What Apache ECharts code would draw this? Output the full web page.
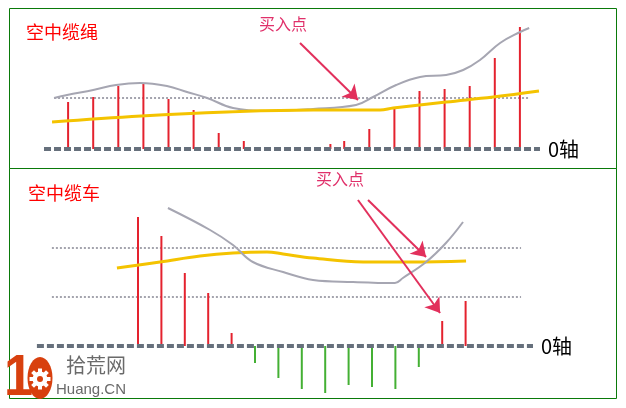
<!DOCTYPE html>
<html><head><meta charset="utf-8">
<script src="https://cdn.jsdelivr.net/npm/echarts@6/dist/echarts.min.js"></script>
<style>html,body{margin:0;padding:0;background:#fff}#c{width:626px;height:408px}</style>
</head><body><div id="c"></div>
<script>
// ---- Top panel: 空中缆绳 ----
const topBarX = [0,1,2,3,4,5,6,7,10.45,11,12,13,14,15,16,17,18];
const topBarY = [47,52,63,66,50,39,16,8,5,8,20,42,58,60,63,91,122];
const topGrayX = [-0.56,-0.04,1.0,1.91,2.87,3.94,4.74,5.54,6.57,7.93,9.76,11.47,12.15,13.07,14.02,15.06,15.74,16.41,17.21,18.01,18.37];
const topGrayY = [51,54,59,64,66,63,57,51,41,38,40,44,52,64,72,74,79,89,106,117,121];
const topYellowX = [-0.64,2.91,6.33,9.76,12.43,12.95,15.06,16.93,18.76];
const topYellowY = [27,33,37,39,39,41,47,52,58];
const topZeroX = [-0.96,18.8];
const topDotX = [-0.56,18.33];
const topDotLevel = 51;
const topArrow = [[9.24,106],[11.55,49]];

// ---- Bottom panel: 空中缆车 ----
const botBarX = [0,1,2,3,4,5,6,7,8,9,10,11,12,13,14];
const botBarY = [129,110,73,53,13,-17,-32,-43,-47,-39,-41,-43,-21,25,45];
const botGrayX = [1.28,3.08,4.06,4.91,6.2,7.48,9.19,10.98,11.32,12.31,13.16,13.89];
const botGrayY = [138,116,101,84,74,66,64,63,68,84,103,124];
const botYellowX = [-0.9,0.94,2.65,4.06,5.51,6.2,7.48,9.62,11.75,14.02];
const botYellowY = [78,84,90,93,94,92,88,84,84,85];
const botZeroX = [-4.32,16.88];
const botDotX = [-3.68,16.37];
const botDotLevels = [98,49];
const botArrows = [[[9.4,146],[12.91,33]],[[9.83,146],[12.31,89]]];

const zip = (xs, ys) => xs.map((x,i)=>[x,ys[i]]);
const CJK = '"Noto Sans CJK SC","Noto Sans",sans-serif';

const zeroStyle = {color:'#66707c', width:4, type:[7,3]};
const dotStyle = {color:'#a4a4ae', width:2, type:[2,2]};
const markArrows = (list) => ({
  silent:true, symbol:['none','arrow'], symbolSize:14,
  label:{show:false},
  lineStyle:{color:'#e2305c', width:2, type:'solid'},
  emphasis:{disabled:true},
  data:list.map(p=>[{coord:p[0]},{coord:p[1]}])
});
const zeroLabel = {show:true, formatter:'0轴', fontSize:20, color:'#000', distance:8, fontFamily:CJK};
const LOGO = '#d8400e';

const chart = echarts.init(document.getElementById('c'), null, {renderer:'canvas'});
chart.setOption({
  animation:false,
  backgroundColor:'#ffffff',
  grid:[
    {left:43, top:9, width:502, height:140},
    {left:32.7, top:170, width:503.1, height:226}
  ],
  xAxis:[
    {type:'value', gridIndex:0, min:-1, max:19, show:false},
    {type:'value', gridIndex:1, min:-4.5, max:17, show:false}
  ],
  yAxis:[
    {type:'value', gridIndex:0, min:0, max:140, show:false},
    {type:'value', gridIndex:1, min:-50, max:176, show:false}
  ],
  series:[
    // top panel
    {type:'line', xAxisIndex:0, yAxisIndex:0, data:topDotX.map(x=>[x,topDotLevel]), symbol:'none', lineStyle:dotStyle, z:1},
    {type:'bar', xAxisIndex:0, yAxisIndex:0, data:zip(topBarX, topBarY), barWidth:2, itemStyle:{color:'#e4222e'}, z:2},
    {type:'line', xAxisIndex:0, yAxisIndex:0, data:zip(topGrayX, topGrayY), smooth:0.4, symbol:'none', lineStyle:{color:'#a6a6b2', width:2}, z:3},
    {type:'line', xAxisIndex:0, yAxisIndex:0, data:zip(topYellowX, topYellowY), smooth:0.4, symbol:'none', lineStyle:{color:'#f4c300', width:3}, z:3},
    {type:'line', xAxisIndex:0, yAxisIndex:0, data:topZeroX.map(x=>[x,0]), symbol:'none', lineStyle:zeroStyle, z:4,
      endLabel:zeroLabel, markLine:markArrows([topArrow])},
    // bottom panel
    {type:'line', xAxisIndex:1, yAxisIndex:1, data:botDotX.map(x=>[x,botDotLevels[0]]), symbol:'none', lineStyle:dotStyle, z:1},
    {type:'line', xAxisIndex:1, yAxisIndex:1, data:botDotX.map(x=>[x,botDotLevels[1]]), symbol:'none', lineStyle:dotStyle, z:1},
    {type:'bar', xAxisIndex:1, yAxisIndex:1, data:zip(botBarX, botBarY), barWidth:2,
      itemStyle:{color:(p)=> p.value[1] < 0 ? '#44b034' : '#e4222e'}, z:2},
    {type:'line', xAxisIndex:1, yAxisIndex:1, data:zip(botYellowX, botYellowY), smooth:0.4, symbol:'none', lineStyle:{color:'#f4c300', width:3}, z:3},
    {type:'line', xAxisIndex:1, yAxisIndex:1, data:zip(botGrayX, botGrayY), smooth:0.4, symbol:'none', lineStyle:{color:'#a6a6b2', width:2}, z:3},
    {type:'line', xAxisIndex:1, yAxisIndex:1, data:botZeroX.map(x=>[x,0]), symbol:'none', lineStyle:zeroStyle, z:4,
      endLabel:zeroLabel, markLine:markArrows(botArrows)}
  ],
  graphic:[
    {type:'rect', shape:{x:9.5, y:8.5, width:607, height:160}, style:{fill:null, stroke:'#0a7a0a', lineWidth:1}, silent:true},
    {type:'rect', shape:{x:9.5, y:168.5, width:607, height:230}, style:{fill:null, stroke:'#0a7a0a', lineWidth:1}, silent:true},
    {type:'text', left:26, top:23, style:{text:'空中缆绳', fill:'#ff0000', fontSize:18, fontFamily:CJK}},
    {type:'text', left:28, top:184, style:{text:'空中缆车', fill:'#ff0000', fontSize:18, fontFamily:CJK}},
    {type:'text', left:259, top:16, style:{text:'买入点', fill:'#e0306a', fontSize:16, fontFamily:CJK}},
    {type:'text', left:316, top:171, style:{text:'买入点', fill:'#e0306a', fontSize:16, fontFamily:CJK}},
    // logo
    {type:'text', x:4, y:350, scaleX:0.9, style:{text:'1', fill:LOGO, fontSize:58, fontWeight:'bold', fontFamily:'"Liberation Sans",Arial,sans-serif'}},
    {type:'ellipse', shape:{cx:40, cy:378, rx:12.5, ry:21}, style:{fill:LOGO}},
    {type:'circle', shape:{cx:40, cy:379, r:7.5}, style:{fill:'#ffffff'}},
    {type:'group', x:40, y:379, children:[0,1,2,3,4,5,6,7].map(i=>({
      type:'rect', rotation:i*Math.PI/4, shape:{x:-2, y:-10.5, width:4, height:5}, style:{fill:'#ffffff'}
    }))},
    {type:'circle', shape:{cx:40, cy:379, r:3}, style:{fill:LOGO}},
    {type:'text', left:66, top:355, style:{text:'拾荒网', fill:'#6a6a6a', fontSize:20, fontFamily:CJK}},
    {type:'text', left:56, top:382, style:{text:'Huang.CN', fill:'#6a6a6a', fontSize:15, fontFamily:'"Liberation Sans",Arial,sans-serif'}}
  ]
});
</script>
</body></html>
